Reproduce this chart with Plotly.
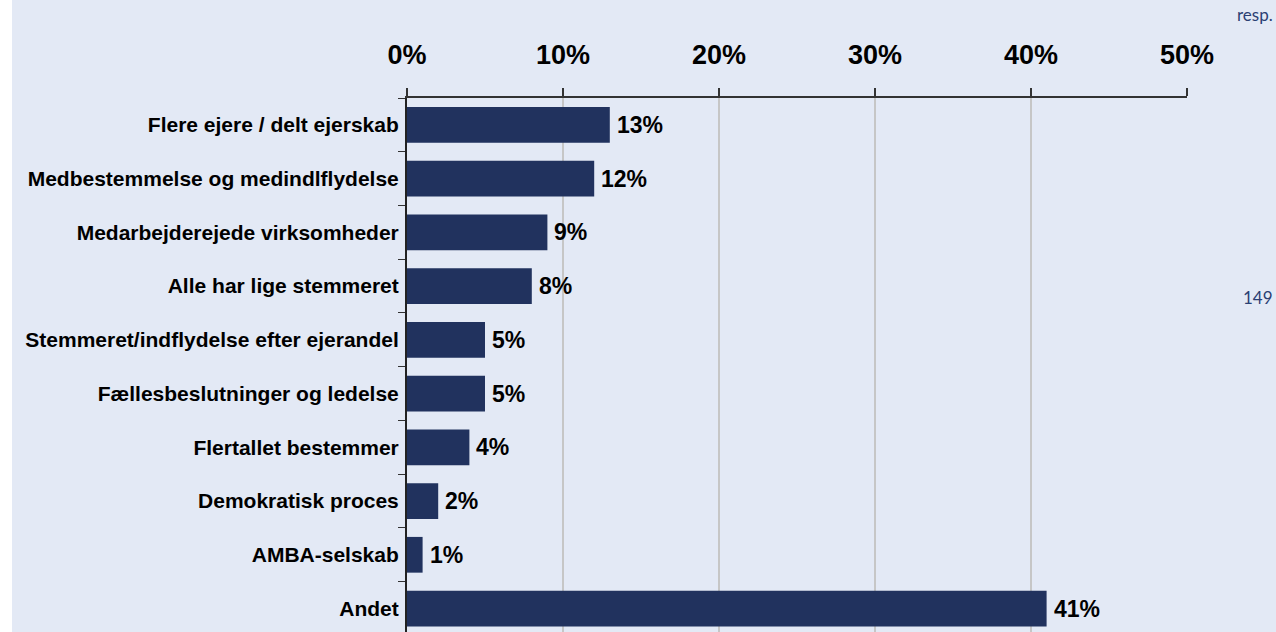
import plotly.graph_objects as go

categories = [
    "Flere ejere / delt ejerskab",
    "Medbestemmelse og medindlflydelse",
    "Medarbejderejede virksomheder",
    "Alle har lige stemmeret",
    "Stemmeret/indflydelse efter ejerandel",
    "Fællesbeslutninger og ledelse",
    "Flertallet bestemmer",
    "Demokratisk proces",
    "AMBA-selskab",
    "Andet",
]
values = [13, 12, 9, 8, 5, 5, 4, 2, 1, 41]
tick_vals = [0, 10, 20, 30, 40, 50]
tick_text = ["0%", "10%", "20%", "30%", "40%", "50%"]

BG = "#E3E9F5"
BAR = "#21325E"
FONT = "Liberation Sans, Arial, sans-serif"

W, H = 1276, 632
ML, MR, MT, MB = 407, 89, 98, 0
PW = W - ML - MR
PH = H - MT - MB

fig = go.Figure()
fig.add_trace(go.Bar(
    y=categories, x=values, orientation="h",
    marker=dict(color=BAR, line=dict(width=0)),
    hoverinfo="skip",
))

for c, v in zip(categories, values):
    fig.add_annotation(
        x=v, y=c, xref="x", yref="y", text=f"<b>{v}%</b>",
        showarrow=False, xanchor="left", yanchor="middle", xshift=5,
        font=dict(family=FONT, size=23, color="#000000"),
    )

fig.add_annotation(
    xref="paper", yref="paper", x=(1275 - ML) / PW, y=(H - 15) / PH,
    text="resp.", showarrow=False, xanchor="right", yanchor="middle",
    font=dict(family="Lato, sans-serif", size=17, color="#2B3F73"),
)
fig.add_annotation(
    xref="paper", yref="paper", x=(1275 - ML) / PW, y=(H - 297) / PH,
    text="149", showarrow=False, xanchor="right", yanchor="middle",
    font=dict(family="Lato, sans-serif", size=17, color="#2B3F73"),
)

fig.add_shape(
    type="rect", xref="paper", yref="paper",
    x0=-ML / PW, x1=(12 - ML) / PW, y0=-0.05, y1=(H + 5) / PH,
    fillcolor="#FFFFFF", line=dict(width=0), layer="above",
)

fig.update_layout(
    width=W, height=H,
    margin=dict(l=ML, r=MR, t=MT, b=MB, pad=0),
    paper_bgcolor=BG, plot_bgcolor=BG,
    bargap=0.335,
    showlegend=False,
    font=dict(family=FONT, color="#000000"),
    xaxis=dict(
        side="top", range=[0, 50], tickvals=tick_vals, ticktext=[f"<b>{t}</b>" for t in tick_text],
        showgrid=True, gridcolor="#C6C6C6", gridwidth=2,
        showline=True, linecolor="#333333", linewidth=2,
        ticks="outside", ticklen=8, tickwidth=2, tickcolor="#333333",
        tickfont=dict(family=FONT, size=27, color="#000000"),
        ticklabelstandoff=13, zeroline=False, fixedrange=True,
    ),
    yaxis=dict(
        categoryorder="array", categoryarray=categories,
        range=[-0.5 + PH / 53.74, -0.5],
        tickson="boundaries", ticks="outside", ticklen=7, tickwidth=1, tickcolor="#333333",
        showline=True, linecolor="#222222", linewidth=2,
        showgrid=False, zeroline=False,
        tickvals=categories, ticktext=[f"<b>{c}</b>" for c in categories],
        tickfont=dict(family=FONT, size=21, color="#000000"),
        ticklabelstandoff=2, fixedrange=True,
    ),
)

fig.write_html(
    "out.html",
    config={"displayModeBar": False, "staticPlot": True},
    post_script="document.body.style.margin='0';document.body.style.overflow='hidden';",
)
